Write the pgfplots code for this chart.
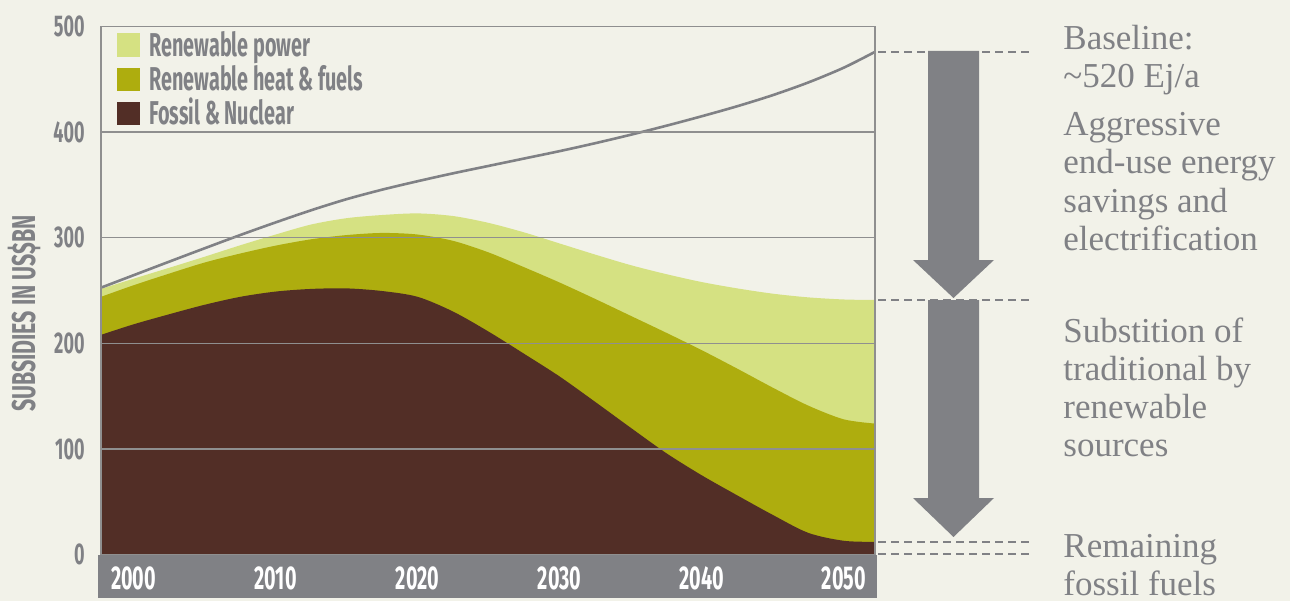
\documentclass[border=0pt]{standalone}
\usepackage{pgfplots}
\pgfplotsset{compat=1.18}
\usepackage{fontspec}
\setmainfont{Liberation Serif}
\newfontfamily\cond[FakeStretch=0.6]{Fira Sans}
\newfontfamily\condy[FakeStretch=0.65]{Fira Sans}
\definecolor{bg}{RGB}{242,242,233}
\definecolor{lgreen}{RGB}{213,225,130}
\definecolor{olivec}{RGB}{174,173,14}
\definecolor{fossil}{RGB}{82,46,38}
\definecolor{gtxt}{RGB}{128,129,133}
\definecolor{gridc}{RGB}{143,143,143}
\begin{document}
\begin{tikzpicture}
\fill[bg] (0,0) rectangle (645pt,300.5pt);
\begin{scope}[shift={(0pt,300.5pt)},x=0.5pt,y=-0.5pt]
  \fill[gtxt] (98,555) rectangle (877,597.5);
\end{scope}
\begin{axis}[at={(50.5pt,23.25pt)}, anchor=south west, scale only axis,
  width=387pt, height=264pt,
  xmin=1997.7, xmax=2052.2, ymin=0, ymax=500,
  xtick={2000,2010,2020,2030,2040,2050},
  xticklabels={2000,2010,2020,2030,2040,2050},
  ytick={0,100,200,300,400,500},
  yticklabels={0,100,200,300,400,500},
  major tick length=0pt,
  axis line style={draw=gridc, line width=0.7pt},
  ymajorgrids, grid style={draw=gridc, line width=0.75pt},
  axis on top,
  xticklabel style={font=\cond\bfseries\fontsize{16.5}{16.5}\selectfont, text=white, anchor=center, inner sep=0pt, yshift=-12pt},
  yticklabel style={font=\cond\bfseries\fontsize{15}{15}\selectfont, text=gtxt, anchor=east, inner sep=0pt, xshift=-8pt},
]
\addplot[fill=lgreen, draw=none, smooth] coordinates {
(1997.7,251.5)(2000,261.2)(2002.5,271.5)(2005,282)(2007.5,292.8)(2010,303)(2012.5,312.5)(2015,318.5)(2017.5,321.5)(2020,323)(2022.5,320.5)(2025,314)(2027.5,305)(2030,294.5)(2032.5,284)(2035,274)(2037.5,265.5)(2040,258)(2042.5,252)(2045,247)(2047.5,243.5)(2050,241.5)(2052.2,241)
} \closedcycle;
\addplot[fill=olivec, draw=none, smooth] coordinates {
(1997.7,244)(2000,255)(2002.5,266)(2005,276.5)(2007.5,285)(2010,292.5)(2012.5,298.5)(2015,302.5)(2017.5,304.5)(2020,303)(2022.5,297)(2025,286)(2027.5,272)(2030,257.5)(2032.5,242)(2035,226)(2037.5,210)(2040,193.5)(2042.5,176)(2045,158)(2047.5,141)(2050,128)(2052.2,124)
} \closedcycle;
\addplot[fill=fossil, draw=none, smooth] coordinates {
(1997.7,208)(2000,218)(2002.5,227.5)(2005,236.5)(2007.5,244)(2010,249)(2012.5,251.5)(2015,252)(2017.5,249.5)(2020,244)(2022.5,230)(2025,211)(2027.5,190)(2030,168.5)(2032.5,144.5)(2035,120)(2037.5,96)(2040,75)(2042.5,56)(2045,37.5)(2047.5,20.5)(2050,13)(2052.2,12)
} \closedcycle;
\addplot[draw=gtxt, line width=1.3pt, smooth] coordinates {
(1997.7,252.7)(2000,264.5)(2002.5,277.3)(2005,290)(2007.5,302.5)(2010,314.5)(2012.5,326)(2015,336.5)(2017.5,345.5)(2020,353.5)(2022.5,361)(2025,368)(2027.5,375)(2030,382)(2032.5,389.5)(2035,397.5)(2037.5,406)(2040,415)(2042.5,424.5)(2045,435)(2047.5,447)(2050,461)(2052.2,476)
};
\end{axis}
\begin{scope}[shift={(0pt,300.5pt)},x=0.5pt,y=-0.5pt]
  % legend
  \fill[lgreen] (117,33) rectangle (140,57);
  \fill[olivec] (117,68) rectangle (140,91);
  \fill[fossil] (117,102) rectangle (140,125);
  \begin{scope}[every node/.style={anchor=base west, inner sep=0pt, text=gtxt, font=\cond\bfseries\fontsize{16.5}{16.5}\selectfont}]
    \node at (149,57) {Renewable power};
    \node at (149,91) {Renewable heat \& fuels};
    \node at (149,125) {Fossil \& Nuclear};
  \end{scope}
  % y label
  \node[rotate=90, inner sep=0pt, text=gtxt, font=\condy\bfseries\fontsize{16.5}{16.5}\selectfont] at (24,313.5) {SUBSIDIES IN US\$BN};
  % dashed lines
  \begin{scope}[draw=gtxt, line width=1.25pt, dash pattern=on 4pt off 2.5pt]
    \draw (878,52) -- (1032,52);
    \draw (878,300) -- (1032,300);
    \draw (878,542) -- (1032,542);
    \draw (878,554) -- (1032,554);
  \end{scope}
  % arrows
  \fill[gtxt] (928,51)--(979,51)--(979,260)--(994,260)--(953.5,298)--(913,260)--(928,260)--cycle;
  \fill[gtxt] (928,300)--(979,300)--(979,498)--(994,498)--(953.5,537)--(913,498)--(928,498)--cycle;
  % annotations
  \begin{scope}[every node/.style={anchor=base west, inner sep=0pt, text=gtxt, font=\fontsize{17.5}{19}\selectfont}]
    \node at (1063,50) {Baseline:};
    \node at (1063,88) {\textasciitilde520 Ej/a};
    \node at (1063,135) {Aggressive};
    \node at (1063,173) {end-use energy};
    \node at (1063,212) {savings and};
    \node at (1063,250) {electrification};
    \node at (1063,342) {Substition of};
    \node at (1063,380) {traditional by};
    \node at (1063,418) {renewable};
    \node at (1063,456) {sources};
    \node at (1063,557) {Remaining};
    \node at (1063,595) {fossil fuels};
  \end{scope}
\end{scope}
\pgfresetboundingbox
\path (0,0) rectangle (645pt,300.5pt);
\end{tikzpicture}
\end{document}
